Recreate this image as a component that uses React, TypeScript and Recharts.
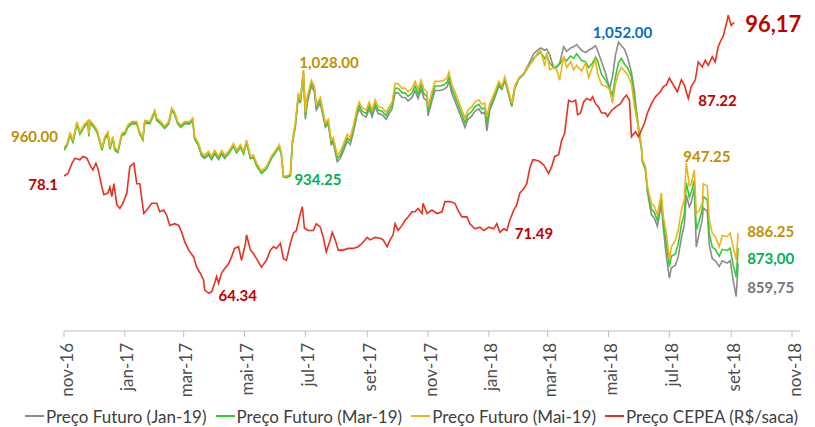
import React from "react";
import { LineChart, Line, XAxis, YAxis, Legend, ReferenceDot } from "recharts";

// days counted from 1 Nov 2016
const futureDays = [
  0, 3, 6, 9, 13, 16, 20, 24, 25, 26, 30, 33, 36, 38, 41, 44, 46, 49, 51, 54, 58, 61, 64, 68, 73, 76, 79, 81, 86, 91, 93, 97, 101, 105, 108, 111, 114, 117, 121, 126, 129,
  131, 135, 138, 141, 145, 148, 151, 155, 158, 161, 165, 170, 173, 177, 180, 183, 187, 190, 193, 198, 203, 208, 212, 216, 218, 220, 223, 227,
  229, 232, 235, 237, 240, 242, 244, 248, 251, 253, 257, 260, 262, 265, 268, 270,
  274, 277, 280, 284, 287, 290, 294, 296, 299, 303, 306, 309, 312, 315, 319, 323, 326, 329,
  332, 335, 339, 342, 345, 349, 352, 355, 358, 361, 364, 365, 369, 372, 377, 381, 384, 386, 389, 392, 395, 399, 402, 405, 409, 412, 416, 419, 422, 424,
  427, 432, 436, 439, 442, 446, 449, 452, 456, 461, 466, 471, 476, 478,
  482, 484, 487, 491, 494, 497, 501, 504, 508, 511, 514, 519, 523, 526, 530, 533, 535, 539, 543, 547, 550, 553, 556, 559, 562, 565, 569, 572, 574, 577,
  579, 580, 583, 585, 589, 592, 595, 599, 601,
  604, 607, 609, 613, 616, 619, 622, 624, 627, 629, 632, 634, 637, 640, 641, 645, 647, 650, 653, 657, 660, 665, 668, 671, 674, 676,
];

const precoJan19 = [
  959, 963, 972, 966, 982, 973, 979, 983, 971, 983, 979, 975, 966, 959, 969, 973, 960, 969, 959, 957, 972, 973, 979, 982, 982, 973, 968, 983, 982, 992, 985, 982, 978, 982, 994, 990, 982, 979, 982, 982, 985,
  968, 962, 953, 951, 954, 950, 955, 950, 955, 951, 955, 962, 956, 961, 955, 965, 951, 952, 945, 938, 942, 951, 956, 961, 954, 935.5, 935, 936.5,
  964, 979, 1005, 999, 1026, 985, 999, 1014, 1009, 993, 999, 987, 978, 981, 963, 965,
  948, 951, 957, 966, 963, 973, 989, 994, 989, 987, 994, 987, 996, 990, 989, 985, 990, 994,
  1008, 1008, 1004, 1004, 1001, 1004, 1010, 1003, 1011, 1003, 1001, 988, 1001, 1010, 1010, 1011, 1013, 1018, 1007, 1001, 994, 985, 978, 985, 988, 992, 994, 990, 991, 975,
  993, 1004, 1014, 1011, 1019, 1006, 996, 1012, 1020, 1025, 1033, 1042, 1046, 1047,
  1045, 1046, 1041, 1030, 1030, 1034, 1048, 1044, 1047, 1048, 1050, 1045, 1043, 1045, 1047, 1049, 1045, 1035, 1025, 1012, 1022, 1041, 1052, 1049, 1046, 1039, 1026, 1009, 991, 969,
  960, 948, 941, 922, 902, 899, 892, 911, 890,
  866, 847, 856, 858, 866, 882, 893, 919, 909, 913, 925, 874, 886, 898, 908, 905, 876, 864, 862, 857, 862, 860, 862, 845, 831, 859.75,
];

const precoMar19 = [
  958, 962, 971, 965, 981, 972, 978, 982, 970, 982, 978, 974, 965, 958, 968, 972, 959, 968, 958, 956, 971, 972, 978, 981, 981, 972, 967, 982, 981, 991, 984, 981, 977, 981, 993, 989, 981, 978, 981, 981, 984,
  968, 962, 954, 952, 955, 951, 956, 951, 956, 952, 955, 962, 956, 961, 955, 965, 951, 952, 945, 938, 942, 951, 956, 961, 954, 935, 934.25, 936,
  965, 980, 1006, 1000, 1027, 989, 1003, 1017, 1012, 996, 1002, 989, 980, 983, 965, 967,
  951, 954, 960, 969, 966, 976, 992, 997, 992, 990, 997, 990, 999, 993, 992, 988, 993, 997,
  1012, 1012, 1008, 1008, 1005, 1008, 1014, 1007, 1015, 1007, 1005, 992, 1005, 1014, 1014, 1015, 1017, 1022, 1011, 1005, 998, 989, 982, 989, 992, 996, 998, 994, 995, 982,
  996, 1006, 1016, 1012, 1020, 1007, 997, 1012, 1020, 1024, 1031, 1038, 1042, 1043,
  1038, 1040, 1034, 1030, 1031, 1033, 1038, 1036, 1040, 1038, 1042, 1036, 1035, 1030, 1034, 1039, 1036, 1024, 1019, 1012, 1006, 1022, 1034, 1038, 1033, 1030, 1022, 1003, 992, 973,
  961, 949, 942, 924, 907, 904, 897, 916, 895,
  877, 857, 866, 868, 877, 893, 903, 930, 917, 922, 932, 889, 897, 907, 918, 915, 886, 874, 872, 866, 872, 871, 873, 858, 848, 873,
];

const precoMai19 = [
  960, 964, 973, 967, 983, 974, 980, 984, 972, 984, 980, 976, 967, 960, 970, 974, 961, 970, 960, 958, 973, 974, 980, 983, 983, 974, 969, 984, 983, 993, 986, 983, 979, 983, 995, 991, 983, 980, 983, 983, 986,
  970, 964, 956, 954, 957, 953, 958, 953, 958, 954, 957, 964, 958, 963, 957, 967, 953, 954, 947, 940, 944, 953, 958, 963, 956, 936, 935.5, 937.5,
  967, 982, 1008, 1002, 1028, 991, 1005, 1019, 1014, 998, 1004, 991, 982, 985, 967, 969,
  954, 957, 963, 972, 969, 979, 995, 1000, 995, 993, 1000, 993, 1002, 996, 995, 991, 996, 1000,
  1016, 1016, 1012, 1012, 1009, 1012, 1018, 1011, 1019, 1011, 1009, 996, 1009, 1018, 1018, 1019, 1021, 1026, 1015, 1009, 1002, 993, 986, 993, 996, 1000, 1002, 998, 999, 987,
  999, 1009, 1018, 1014, 1022, 1009, 999, 1014, 1021, 1025, 1031, 1037, 1044, 1045,
  1031, 1043, 1028, 1030, 1028, 1019, 1040, 1030, 1035, 1028, 1032, 1027, 1034, 1021, 1031, 1037, 1025, 1015, 1014, 1011, 999, 1016, 1025, 1030, 1027, 1024, 1016, 996, 987, 973,
  961, 950, 944, 927, 912, 909, 902, 921, 900,
  886, 863, 874, 880, 889, 906, 915, 947.25, 927, 929, 941, 903, 906, 912, 929, 927, 898, 886, 883, 874, 884, 883, 886, 874, 863, 886.25,
];

const cepeaDays = [
  0, 4, 8, 11, 16, 19, 23, 26, 29, 32, 34, 38, 40, 44, 46, 48, 50, 53, 56, 59, 63, 66, 70, 73, 76, 80, 83, 88, 93, 96,
  100, 103, 106, 111, 115, 118, 121, 125, 130, 133, 136, 140, 141, 145, 148, 151, 153, 155, 158, 161, 165, 168, 171, 175, 178, 182, 183, 187, 190, 193,
  198, 203, 207, 210, 213, 217, 220, 223, 227, 230, 233, 237, 239, 241, 245, 250, 253, 257, 260, 263, 267, 269, 272, 275, 280, 285, 290, 295, 299, 304,
  307, 312, 317, 320, 324, 327, 330, 332, 335, 339, 342, 345, 349, 352, 355, 359, 360, 364, 369, 374, 379, 382, 387, 392, 395, 399, 404, 407, 412, 417,
  421, 426, 431, 434, 437, 441, 444, 447, 451, 454, 457, 461, 464, 466, 467, 470, 472, 477, 481, 486, 489, 492, 496, 499, 502, 504, 506, 509, 513, 515,
  518, 521, 524, 528, 530, 533, 536, 539, 543, 545, 549, 553, 558, 561, 564, 567, 569, 573, 576, 579, 582, 585, 589, 593, 598, 601, 604, 607, 610, 615,
  619, 622, 626, 629, 633, 636, 640, 643, 646, 650, 653, 656, 659, 661, 665, 666, 669, 672,
];

const precoCepea = [
  78.1, 78.4, 79.6, 80.2, 80.0, 80.4, 80.2, 79.4, 78.8, 79.6, 79.0, 76.8, 75.9, 76.1, 76.8, 75.7, 77.2, 74.7, 74.3, 74.9, 76.1, 79.2, 79.6, 77.2, 77.2, 73.7, 74.1, 74.9, 74.9, 73.9,
  74.1, 73.5, 72.3, 72.5, 72.3, 71.5, 70.4, 69.4, 68.6, 67.4, 66.8, 65.9, 64.7, 64.34, 64.5, 65.5, 66.3, 65.5, 66.7, 67.2, 67.8, 68.6, 69.6, 69.8, 68.2, 70.2, 71.2, 69.4, 69.0, 68.4,
  67.4, 68.2, 69.4, 69.8, 69.6, 70.2, 68.4, 68.2, 70.2, 71.4, 71.7, 73.7, 74.5, 72.0, 71.7, 71.7, 72.5, 72.1, 70.9, 69.2, 70.6, 71.5, 70.6, 69.4, 69.4, 69.6, 69.6, 69.8, 70.2, 70.9,
  70.6, 70.9, 70.8, 70.6, 69.8, 70.6, 71.2, 72.5, 71.7, 72.3, 72.9, 73.3, 73.9, 73.9, 74.3, 73.7, 74.9, 73.7, 74.1, 73.7, 73.9, 75.1, 75.1, 74.9, 74.1, 73.3, 73.3, 72.5, 71.9, 72.1,
  71.7, 72.1, 71.9, 72.5, 71.49, 71.9, 71.7, 72.9, 74.1, 74.7, 76.1, 76.6, 77.2, 78.4, 79.0, 80.0, 80.0, 79.8, 79.4, 78.4, 79.2, 80.4, 80.6, 82.3, 83.1, 85.1, 87.0, 86.8, 87.0, 85.3,
  85.5, 86.8, 87.2, 87.0, 87.4, 86.6, 86.2, 85.5, 85.5, 85.1, 85.8, 86.2, 86.6, 87.2, 87.6, 87.0, 82.7, 83.3, 82.7, 83.5, 84.3, 85.5, 86.6, 87.4, 88.0, 88.6, 88.8, 89.6, 89.0, 88.0,
  89.4, 88.8, 87.22, 88.6, 89.4, 91.5, 90.9, 91.7, 91.1, 92.1, 91.5, 93.3, 94.1, 94.5, 96.4, 97.0, 95.8, 96.17,
];

const tickDays = [0, 61, 120, 181, 242, 304, 365, 426, 485, 546, 607, 669, 730];
const tickLabels = ["nov-16", "jan-17", "mar-17", "mai-17", "jul-17", "set-17", "nov-17", "jan-18", "mar-18", "mai-18", "jul-18", "set-18", "nov-18"];

const seriesNames = ["Preço Futuro (Jan-19)", "Preço Futuro (Mar-19)", "Preço Futuro (Mai-19)", "Preço CEPEA (R$/saca)"];

const futureRows = futureDays.map((day, i) => ({ day, jan19: precoJan19[i], mar19: precoMar19[i], mai19: precoMai19[i] }));
const cepeaRows = cepeaDays.map((day, i) => ({ day, cepea: precoCepea[i] }));

const FONT = "Lato, 'Open Sans', sans-serif";
const lineColors = ["#8C8C8C", "#33CC33", "#EDB41C", "#E8321E"];

const GOLD = "#BF9000";
const RED = "#C00000";
const GREEN = "#00B050";

const callouts = [
  { text: "960.00", day: 0, value: 960, axis: "fut", color: GOLD, dx: -6, dy: -12, anchor: "end" },
  { text: "78.1", day: 0, value: 78.1, axis: "cepea", color: RED, dx: -6, dy: 8, anchor: "end" },
  { text: "1,028.00", day: 240, value: 1028, axis: "fut", color: GOLD, dx: -4, dy: -8, anchor: "start" },
  { text: "934.25", day: 223, value: 934.25, axis: "fut", color: GREEN, dx: 8, dy: 1, anchor: "start" },
  { text: "64.34", day: 145, value: 64.34, axis: "cepea", color: RED, dx: 10, dy: 2, anchor: "start" },
  { text: "71.49", day: 437, value: 71.49, axis: "cepea", color: RED, dx: 15, dy: 1, anchor: "start" },
  { text: "1,052.00", day: 556, value: 1052, axis: "fut", color: "#0070C0", dx: 4, dy: -10, anchor: "middle" },
  { text: "87.22", day: 626, value: 87.22, axis: "cepea", color: RED, dx: 10, dy: 2, anchor: "start" },
  { text: "96,17", day: 672, value: 96.17, axis: "cepea", color: RED, dx: 11, dy: 1, anchor: "start", size: 22 },
  { text: "947.25", day: 624, value: 947.25, axis: "fut", color: GOLD, dx: -3, dy: -7, anchor: "start" },
  { text: "886.25", day: 676, value: 886.25, axis: "fut", color: GOLD, dx: 9, dy: -2, anchor: "start" },
  { text: "873,00", day: 676, value: 873, axis: "fut", color: GREEN, dx: 9, dy: 10, anchor: "start" },
  { text: "859,75", day: 676, value: 859.75, axis: "fut", color: "#767676", dx: 9, dy: 24, anchor: "start" },
];

function MonthTick(props: any) {
  const { x, y, payload } = props;
  const label = tickLabels[tickDays.indexOf(payload.value)];
  return (
    <text
      x={0}
      y={0}
      transform={`translate(${x + 2},${y + 4}) rotate(-90)`}
      textAnchor="end"
      dominantBaseline="central"
      fill="#4D4D4D"
      fontSize={17}
      fontFamily={FONT}
    >
      {label}
    </text>
  );
}

function renderLegend() {
  return (
    <div style={{ display: "flex", justifyContent: "center", alignItems: "center", height: 22, fontFamily: FONT, fontSize: 17, color: "#404040", whiteSpace: "nowrap", paddingLeft: 8 }}>
      {seriesNames.map((name, i) => (
        <span key={name} style={{ display: "inline-flex", alignItems: "center", marginRight: i < 3 ? 9 : 0 }}>
          <span style={{ display: "inline-block", width: 19, height: 2, background: lineColors[i], marginRight: 2 }} />
          {name}
        </span>
      ))}
    </div>
  );
}

function calloutLabel(c: any) {
  return (p: any) => {
    const vb = p.viewBox || {};
    const cx = (vb.x ?? 0) + (vb.width ?? 0) / 2;
    const cy = (vb.y ?? 0) + (vb.height ?? 0) / 2;
    return (
      <text
        x={cx + c.dx}
        y={cy + c.dy}
        textAnchor={c.anchor}
        dominantBaseline="central"
        fill={c.color}
        fontSize={c.size || 15}
        fontWeight={700}
        fontFamily={FONT}
      >
        {c.text}
      </text>
    );
  };
}

export default function App() {
  return (
    <div style={{ position: "absolute", left: 0, top: 0, width: 815, height: 427, background: "#fff", fontFamily: FONT }}>
      <LineChart width={815} height={427} margin={{ top: 10, right: 15, bottom: 0, left: 64 }}>
        <XAxis
          type="number"
          dataKey="day"
          domain={[0, 738]}
          ticks={tickDays}
          interval={0}
          tick={<MonthTick />}
          tickSize={6}
          tickLine={{ stroke: "#BFBFBF" }}
          axisLine={{ stroke: "#BFBFBF" }}
          height={74}
          allowDataOverflow
        />
        <YAxis yAxisId="fut" domain={[801, 1080]} hide allowDataOverflow />
        <YAxis yAxisId="cepea" domain={[59.9, 97.6]} hide allowDataOverflow />
        <Legend content={renderLegend} verticalAlign="bottom" height={22} wrapperStyle={{ left: 0, width: 815 }} />
        <Line yAxisId="fut" data={futureRows} dataKey="jan19" name={seriesNames[0]} stroke={lineColors[0]} strokeWidth={1.6} dot={false} isAnimationActive={false} />
        <Line yAxisId="fut" data={futureRows} dataKey="mar19" name={seriesNames[1]} stroke={lineColors[1]} strokeWidth={1.6} dot={false} isAnimationActive={false} />
        <Line yAxisId="fut" data={futureRows} dataKey="mai19" name={seriesNames[2]} stroke={lineColors[2]} strokeWidth={1.6} dot={false} isAnimationActive={false} />
        <Line yAxisId="cepea" data={cepeaRows} dataKey="cepea" name={seriesNames[3]} stroke={lineColors[3]} strokeWidth={1.6} dot={false} isAnimationActive={false} />
        {callouts.map((c) => (
          <ReferenceDot
            key={c.text}
            x={c.day}
            y={c.value}
            yAxisId={c.axis}
            r={0}
            fill="none"
            stroke="none"
            ifOverflow="visible"
            label={calloutLabel(c)}
          />
        ))}
      </LineChart>
    </div>
  );
}
